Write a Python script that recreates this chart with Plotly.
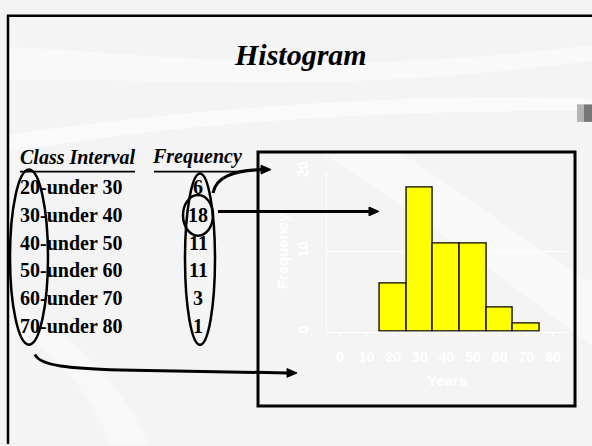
import re
import plotly.graph_objects as go

# Frequency distribution of ages
class_labels = ["20-under 30", "30-under 40", "40-under 50",
                "50-under 60", "60-under 70", "70-under 80"]
class_lower = [20, 30, 40, 50, 60, 70]
class_width = 10
frequency = [6, 18, 11, 11, 3, 1]
x_ticks = [0, 10, 20, 30, 40, 50, 60, 70, 80]
y_ticks = [0, 10, 20]

W, H = 592, 446
SERIF = "Liberation Serif"
SANS = "Liberation Sans"


def px(x):
    return x / W


def py(y):
    return 1 - y / H


def to_paper(path):
    """Convert an SVG path written in pixel units into paper units."""
    out, nums = [], []
    for tok in re.findall(r"[A-Za-z]|-?\d+\.?\d*", path):
        if tok.isalpha():
            out.append(tok)
        else:
            nums.append(float(tok))
            if len(nums) == 2:
                out.append(f"{px(nums[0]):.5f},{py(nums[1]):.5f}")
                nums = []
    return " ".join(out)


fig = go.Figure()

fig.add_trace(go.Bar(
    x=class_lower, y=frequency, width=class_width,
    marker=dict(color="#ffff00", line=dict(color="black", width=1.3)),
    hoverinfo="skip", showlegend=False,
))

shapes = []

# soft background swooshes of the slide
for p, col in [
    ("M 8 38 C 150 44 320 72 592 36 L 592 52 C 320 90 150 68 8 72 Z", "#f9f9f9"),
    ("M 8 128 C 200 100 420 84 592 92 L 592 104 C 420 102 200 112 8 146 Z", "#fafafa"),
    ("M 320 146 L 400 146 C 480 200 540 250 592 280 L 592 345 C 520 290 420 210 320 146 Z", "#f9f9f9"),
    ("M 8 300 C 60 320 120 380 150 446 L 110 446 C 90 390 50 345 8 330 Z", "#f8f8f8"),
]:
    shapes.append(dict(type="path", xref="paper", yref="paper", layer="below",
                       path=to_paper(p), fillcolor=col, line=dict(width=0)))

# slide frame (left and top edges)
shapes.append(dict(type="path", xref="paper", yref="paper", layer="above",
                   path=to_paper("M 8 446 L 8 6 L 592 6"),
                   line=dict(color="black", width=2.5)))

# small gray marker at the right edge
shapes.append(dict(type="rect", xref="paper", yref="paper", layer="above",
                   x0=px(577), x1=px(584), y0=py(115), y1=py(97),
                   fillcolor="#b4b4b4", line=dict(width=0)))
shapes.append(dict(type="rect", xref="paper", yref="paper", layer="above",
                   x0=px(584), x1=px(592), y0=py(115), y1=py(97),
                   fillcolor="#787878", line=dict(width=0)))

# frame around the histogram
shapes.append(dict(type="rect", xref="paper", yref="paper", layer="above",
                   x0=px(258), x1=px(575), y0=py(407), y1=py(146),
                   line=dict(color="black", width=3)))

# underlines of the column headers
for x0, x1 in [(20, 135), (154, 241)]:
    shapes.append(dict(type="line", xref="paper", yref="paper", layer="above",
                       x0=px(x0), x1=px(x1), y0=py(166), y1=py(166),
                       line=dict(color="black", width=1.8)))

# ellipses grouping the columns
for x0, x1, y0, y1 in [(10, 48, 164, 344), (185, 215, 168, 344), (183, 213, 190, 232)]:
    shapes.append(dict(type="circle", xref="paper", yref="paper", layer="above",
                       x0=px(x0), x1=px(x1), y0=py(y1), y1=py(y0),
                       line=dict(color="black", width=2.5)))

# connector arrows
arrow_lines = [
    "M 213 188 C 216 172 232 165 262 164",
    "M 218 207 L 370 207",
    "M 35 354 C 40 366 70 368 120 370 L 288 373",
]
arrow_heads = [
    "M 271 164 L 261 159.5 L 261 168.5 Z",
    "M 379 207 L 369 202.5 L 369 211.5 Z",
    "M 297 373 L 287 368.5 L 287 377.5 Z",
]
for p in arrow_lines:
    shapes.append(dict(type="path", xref="paper", yref="paper", layer="above",
                       path=to_paper(p), line=dict(color="black", width=3)))
for p in arrow_heads:
    shapes.append(dict(type="path", xref="paper", yref="paper", layer="above",
                       path=to_paper(p), fillcolor="black",
                       line=dict(color="black", width=1)))

annotations = []
annotations.append(dict(text="<b><i>Histogram</i></b>", x=px(300), y=py(46),
                        xref="paper", yref="paper", showarrow=False,
                        xanchor="center", yanchor="middle",
                        font=dict(family=SERIF, size=30, color="black")))
annotations.append(dict(text="<b><i>Class Interval</i></b>", x=px(18), y=py(151),
                        xref="paper", yref="paper", showarrow=False,
                        xanchor="left", yanchor="middle",
                        font=dict(family=SERIF, size=20, color="black")))
annotations.append(dict(text="<b><i>Frequency</i></b>", x=px(150), y=py(151),
                        xref="paper", yref="paper", showarrow=False,
                        xanchor="left", yanchor="middle",
                        font=dict(family=SERIF, size=20, color="black")))

row_y = [182, 210.5, 239, 267.5, 296, 324.5]
for lab, f, yy in zip(class_labels, frequency, row_y):
    annotations.append(dict(text=f"<b>{lab}</b>", x=px(18), y=py(yy),
                            xref="paper", yref="paper", showarrow=False,
                            xanchor="left", yanchor="middle",
                            font=dict(family=SERIF, size=20, color="black")))
    annotations.append(dict(text=f"<b>{f}</b>", x=px(198), y=py(yy),
                            xref="paper", yref="paper", showarrow=False,
                            xanchor="center", yanchor="middle",
                            font=dict(family=SERIF, size=20, color="black")))

# axis titles of the histogram
annotations.append(dict(text="<b>Years</b>", x=px(447), y=py(381),
                        xref="paper", yref="paper", showarrow=False,
                        xanchor="center", yanchor="middle",
                        font=dict(family=SANS, size=15, color="white")))
annotations.append(dict(text="<b>Frequency</b>", x=px(282), y=py(248),
                        xref="paper", yref="paper", showarrow=False,
                        textangle=-90, xanchor="center", yanchor="middle",
                        font=dict(family=SANS, size=15, color="white")))

fig.update_layout(
    width=W, height=H,
    margin=dict(l=0, r=0, t=0, b=0),
    paper_bgcolor="#f4f4f4",
    plot_bgcolor="rgba(0,0,0,0)",
    bargap=0,
    showlegend=False,
    hovermode=False,
    shapes=shapes,
    annotations=annotations,
    xaxis=dict(
        domain=[px(326.7), px(566.3)], range=[-5, 85],
        tickvals=x_ticks, ticktext=[str(v) for v in x_ticks],
        showgrid=False, zeroline=False,
        showline=True, linecolor="white", linewidth=1,
        ticks="outside", ticklen=4, tickcolor="white",
        ticklabelstandoff=8,
        tickfont=dict(family=SANS, size=14, color="white", weight="bold"),
    ),
    yaxis=dict(
        domain=[py(330.7), py(166)], range=[0, 20],
        tickvals=y_ticks, ticktext=[str(v) for v in y_ticks],
        showgrid=True, gridcolor="white", gridwidth=1, zeroline=False,
        showline=True, linecolor="white", linewidth=1,
        ticks="", tickangle=-90, ticklabelstandoff=12,
        tickfont=dict(family=SANS, size=14, color="white", weight="bold"),
    ),
)

fig.write_html("out.html")
